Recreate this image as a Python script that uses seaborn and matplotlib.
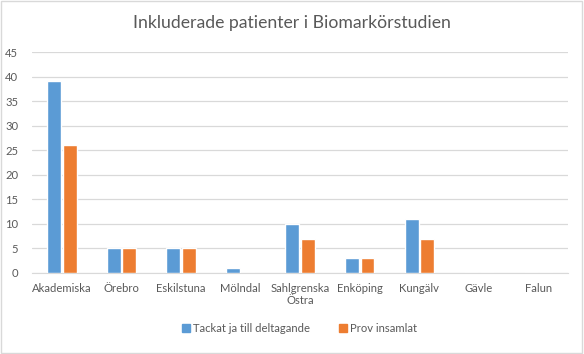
import matplotlib
matplotlib.use("Agg")
import matplotlib.pyplot as plt
import seaborn as sns
import pandas as pd
from matplotlib.patches import Rectangle

categories = ["Akademiska", "Örebro", "Eskilstuna", "Mölndal", "Sahlgrenska\nÖstra",
              "Enköping", "Kungälv", "Gävle", "Falun"]
series_names = ["Tackat ja till deltagande", "Prov insamlat"]
tackat = [39, 5, 5, 1, 10, 3, 11, 0, 0]
prov = [26, 5, 5, 0, 7, 3, 7, 0, 0]
yticks = [0, 5, 10, 15, 20, 25, 30, 35, 40, 45]
title = "Inkluderade patienter i Biomarkörstudien"

df = pd.DataFrame({
    "cat": categories * 2,
    "val": tackat + prov,
    "serie": [series_names[0]] * len(categories) + [series_names[1]] * len(categories),
})

sns.set_style("white")
plt.rcParams["font.family"] = ["Lato", "DejaVu Sans"]

fig = plt.figure(figsize=(5.84, 3.54), dpi=100)
ax = fig.add_axes([0.055, 0.229, 0.918, 0.624])

palette = {series_names[0]: "#5B9BD5", series_names[1]: "#ED7D31"}
sns.barplot(data=df, x="cat", y="val", hue="serie", palette=palette, ax=ax,
            width=0.52, gap=0.1, saturation=1, legend=False, zorder=3)

ax.set_ylim(0, 45)
ax.set_yticks(yticks)
ax.set_xlim(-0.5, len(categories) - 0.5)
ax.yaxis.grid(True, color="#D9D9D9", linewidth=0.9, zorder=0)
ax.set_axisbelow(True)
for s in ["top", "right", "left"]:
    ax.spines[s].set_visible(False)
ax.spines["bottom"].set_color("#D9D9D9")
ax.set_xlabel("")
ax.set_ylabel("")
ax.tick_params(axis="both", length=0, labelsize=8.1, colors="#595959", pad=7)
ax.tick_params(axis="y", pad=10)

fig.text(0.5, 0.935, title, ha="center", va="center", fontsize=12.7, color="#595959")

handles = [Rectangle((0, 0), 1, 1, color=palette[n]) for n in series_names]
fig.legend(handles, series_names, loc="center", bbox_to_anchor=(0.513, 0.073), ncol=2,
           frameon=False, fontsize=8.1, handlelength=0.7, handleheight=0.7,
           columnspacing=2.6, handletextpad=0.3, labelcolor="#595959")

fig.add_artist(Rectangle((0.002, 0.003), 0.995, 0.994, transform=fig.transFigure,
                         fill=False, edgecolor="#D9D9D9", linewidth=1))

fig.savefig("out.png", dpi=100)
